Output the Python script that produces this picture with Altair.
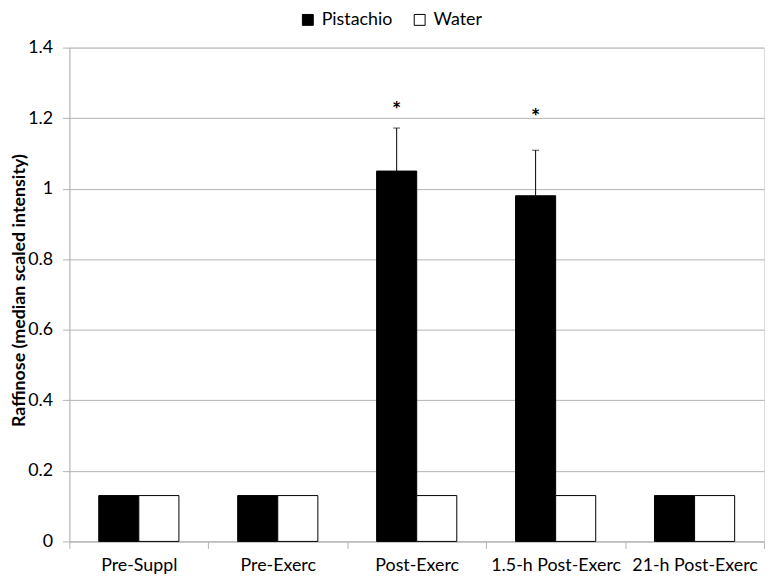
import altair as alt
import pandas as pd

categories = ["Pre-Suppl", "Pre-Exerc", "Post-Exerc", "1.5-h Post-Exerc", "21-h Post-Exerc"]
series = ["Pistachio", "Water"]
pistachio = [0.13, 0.13, 1.05, 0.98, 0.13]
water = [0.13, 0.13, 0.13, 0.13, 0.13]
err_categories = ["Post-Exerc", "1.5-h Post-Exerc"]
err_low = [1.05, 0.98]
err_high = [1.172, 1.109]
star_y = [1.233, 1.214]
y_ticks = [0, 0.2, 0.4, 0.6, 0.8, 1.0, 1.2, 1.4]

rows = []
for c, p, w in zip(categories, pistachio, water):
    rows.append({"category": c, "series": "Pistachio", "value": p})
    rows.append({"category": c, "series": "Water", "value": w})
bars_df = pd.DataFrame(rows)

err_df = pd.DataFrame({"category": err_categories, "series": ["Pistachio"] * 2,
                       "lo": err_low, "hi": err_high, "star": star_y, "label": ["*", "*"]})

GRID = "#b3b3b3"
FONT = "Lato"

x_enc = alt.X("category:N", sort=categories,
              scale=alt.Scale(paddingInner=0, paddingOuter=0),
              axis=alt.Axis(title=None, labelAngle=0, tickBand="extent", tickSize=7,
                            tickColor=GRID, domainColor=GRID, labelFont=FONT,
                            labelFontSize=18, labelColor="black", labelPadding=8))
xo_enc = alt.XOffset("series:N", sort=series,
                     scale=alt.Scale(domain=series, paddingInner=0, paddingOuter=0.733))
y_scale = alt.Scale(domain=[0, 1.4], nice=False)

bars = alt.Chart(bars_df).mark_bar(stroke="black", strokeWidth=1).encode(
    x=x_enc,
    xOffset=xo_enc,
    y=alt.Y("value:Q", scale=y_scale,
            axis=alt.Axis(title="Raffinose (median scaled intensity)", values=y_ticks,
                          format="~g", grid=True, gridColor=GRID, tickColor=GRID,
                          tickSize=7, domainColor=GRID, labelFont=FONT, labelFontSize=18,
                          labelColor="black", labelPadding=10, titleFont=FONT,
                          titleFontSize=18, titleFontWeight="bold", titleColor="black",
                          titleX=-50, titleY=245, titleBaseline="middle",
                          titleAlign="center", titleAngle=270)),
    fill=alt.Fill("series:N", sort=series,
                  scale=alt.Scale(domain=series, range=["black", "white"]),
                  legend=alt.Legend(title=None, orient="none", direction="horizontal",
                                    legendX=232, legendY=-37, symbolType="square",
                                    symbolSize=121, symbolStrokeColor="black",
                                    symbolStrokeWidth=1, labelFont=FONT,
                                    labelFontSize=18, labelColor="black",
                                    columnPadding=18, symbolOffset=0, labelOffset=5)),
)

rules = alt.Chart(err_df).mark_rule(color="black", strokeWidth=1).encode(
    x=alt.X("category:N", sort=categories),
    xOffset=alt.XOffset("series:N", sort=series),
    y=alt.Y("lo:Q", scale=y_scale),
    y2="hi:Q",
)

caps = alt.Chart(err_df).mark_tick(color="black", thickness=1, size=7).encode(
    x=alt.X("category:N", sort=categories),
    xOffset=alt.XOffset("series:N", sort=series),
    y=alt.Y("hi:Q", scale=y_scale),
)

stars = alt.Chart(err_df).mark_text(fontSize=22, fontWeight="bold", font=FONT,
                                    baseline="middle", dy=4, color="black").encode(
    x=alt.X("category:N", sort=categories),
    xOffset=alt.XOffset("series:N", sort=series),
    y=alt.Y("star:Q", scale=y_scale),
    text="label:N",
)

chart = alt.layer(bars, rules, caps, stars).properties(
    width=702, height=499,
    autosize=alt.AutoSizeParams(type="none"),
    padding={"left": 62, "top": 37, "right": 5, "bottom": 40},
).configure_view(strokeWidth=0).configure(background="white")

chart.save("out.html", embed_options={"renderer": "svg", "actions": False})
